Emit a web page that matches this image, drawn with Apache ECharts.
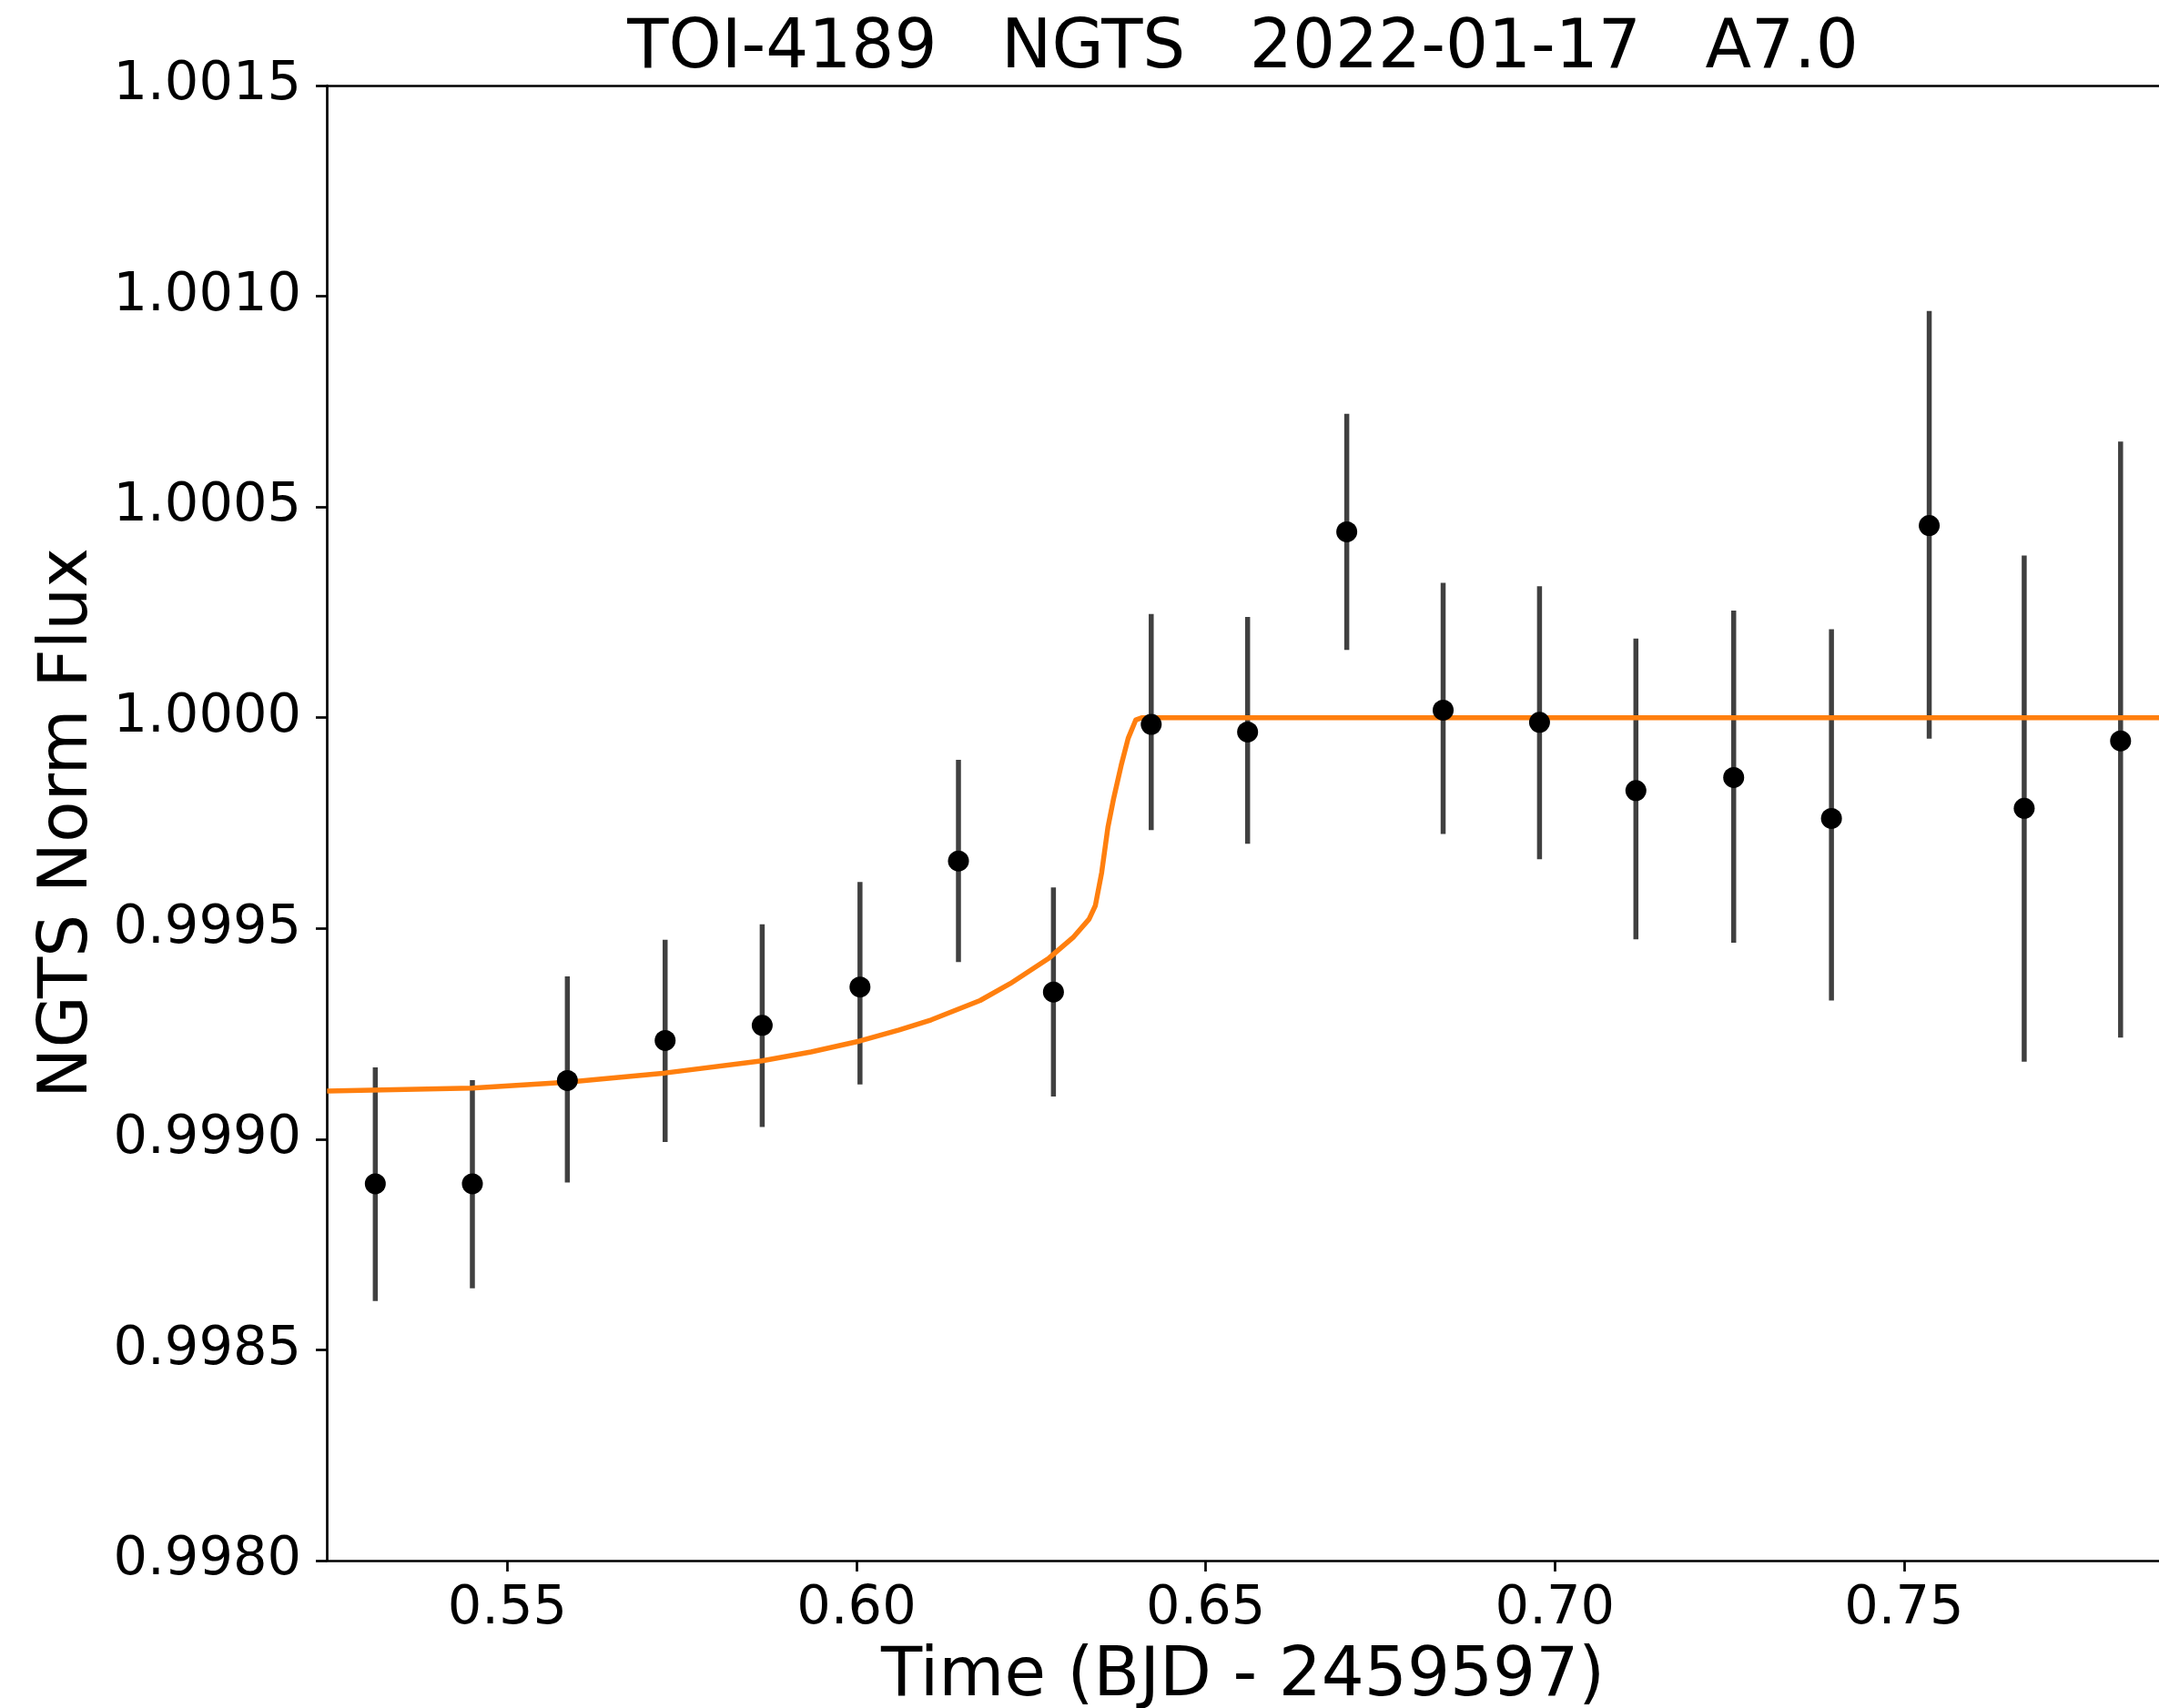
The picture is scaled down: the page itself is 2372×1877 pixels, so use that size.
<!DOCTYPE html>
<html>
<head>
<meta charset="utf-8">
<script src="https://cdn.jsdelivr.net/npm/echarts@6/dist/echarts.min.js"></script>
<style>
html, body { margin: 0; padding: 0; background: #fff; }
#chart { width: 2372px; height: 1877px; }
</style>
</head>
<body>
<div id="chart"></div>
<script>
// ---- data ----
const chartTitle = 'TOI-4189   NGTS   2022-01-17   A7.0';
const xLabel = 'Time (BJD - 2459597)';
const yLabel = 'NGTS Norm Flux';

const time = [0.5311, 0.5450, 0.5586, 0.5726, 0.5865, 0.6005, 0.6146, 0.6282, 0.6422, 0.6560,
              0.6702, 0.6840, 0.6978, 0.7116, 0.7256, 0.7396, 0.7536, 0.7672, 0.7810];
const flux = [0.998894, 0.998894, 0.999139, 0.999234, 0.999270, 0.999361, 0.999660, 0.999349, 0.999984, 0.999966,
              1.000441, 1.000018, 0.999989, 0.999827, 0.999858, 0.999761, 1.000456, 0.999785, 0.999945];
const errTop = [0.999170, 0.999140, 0.999386, 0.999473, 0.999510, 0.999610, 0.999900, 0.999597, 1.000246, 1.000239,
                1.000721, 1.000320, 1.000312, 1.000188, 1.000254, 1.000210, 1.000965, 1.000385, 1.000655];
const errBottom = [0.998616, 0.998646, 0.998897, 0.998993, 0.999029, 0.999130, 0.999420, 0.999101, 0.999733, 0.999701,
                   1.000161, 0.999724, 0.999664, 0.999474, 0.999466, 0.999329, 0.999950, 0.999184, 0.999241];

const modelTime = [0.5242, 0.5450, 0.5586, 0.5726, 0.5865, 0.5935, 0.6005, 0.6061, 0.6107, 0.6177,
                   0.6220, 0.6276, 0.6311, 0.6333, 0.6342, 0.6351, 0.6360, 0.6368, 0.6379, 0.6389,
                   0.6400, 0.6409, 0.7865];
const modelFlux = [0.999114, 0.999121, 0.999135, 0.999157, 0.999186, 0.999207, 0.999233, 0.999259, 0.999283, 0.999329,
                   0.999369, 0.999430, 0.999480, 0.999522, 0.999554, 0.999632, 0.999740, 0.999807, 0.999887, 0.999951,
                   0.999995, 1.000000, 1.000000];

const xTicks = [0.55, 0.60, 0.65, 0.70, 0.75];
const yTicks = [0.9980, 0.9985, 0.9990, 0.9995, 1.0000, 1.0005, 1.0010, 1.0015];
const xRange = [0.52415, 0.7865];
const yRange = [0.9980, 1.0015];

// ---- chart ----
const FONT = 'DejaVu Sans';
const chart = echarts.init(document.getElementById('chart'), null, { renderer: 'canvas' });

const points = time.map((t, i) => [t, flux[i]]);
const bars = time.map((t, i) => [t, errBottom[i], errTop[i]]);
const model = modelTime.map((t, i) => [t, modelFlux[i]]);

const axisLineStyle = { color: '#000', width: 2.7 };

chart.setOption({
  animation: false,
  backgroundColor: '#ffffff',
  grid: { left: 359, right: 0, top: 94, bottom: 162, containLabel: false, outerBoundsMode: 'none' },
  xAxis: [
    {
      type: 'value', min: xRange[0], max: xRange[1], position: 'bottom',
      name: xLabel, nameLocation: 'middle', nameGap: 92,
      nameTextStyle: { fontFamily: FONT, fontSize: 74, color: '#000' },
      axisLine: { show: true, onZero: false, lineStyle: axisLineStyle },
      axisTick: { show: true, inside: false, length: 12, lineStyle: { color: '#000', width: 2.7 }, customValues: xTicks },
      axisLabel: { show: true, fontFamily: FONT, fontSize: 59, color: '#000', margin: 24, customValues: xTicks,
                   formatter: v => v.toFixed(2) },
      splitLine: { show: false }
    },
    {
      type: 'value', min: xRange[0], max: xRange[1], position: 'top',
      name: chartTitle, nameLocation: 'middle', nameGap: 2,
      nameTextStyle: { fontFamily: FONT, fontSize: 74, color: '#000' },
      axisLine: { show: true, onZero: false, lineStyle: axisLineStyle },
      axisTick: { show: false }, axisLabel: { show: false }, splitLine: { show: false }
    }
  ],
  yAxis: {
    type: 'value', min: yRange[0], max: yRange[1],
    name: yLabel, nameLocation: 'middle', nameGap: 246, nameRotate: 90,
    nameTextStyle: { fontFamily: FONT, fontSize: 74, color: '#000' },
    axisLine: { show: true, onZero: false, lineStyle: axisLineStyle },
    axisTick: { show: true, inside: false, length: 12, lineStyle: { color: '#000', width: 2.7 }, customValues: yTicks },
    axisLabel: { show: true, fontFamily: FONT, fontSize: 59, color: '#000', margin: 28, customValues: yTicks,
                 formatter: v => v.toFixed(4) },
    splitLine: { show: false }
  },
  series: [
    {
      type: 'custom',
      xAxisIndex: 0, yAxisIndex: 0,
      data: bars,
      z: 2,
      renderItem: function (params, api) {
        const x = api.value(0);
        const p1 = api.coord([x, api.value(1)]);
        const p2 = api.coord([x, api.value(2)]);
        return {
          type: 'line',
          shape: { x1: p1[0], y1: p1[1], x2: p2[0], y2: p2[1] },
          style: { stroke: '#404040', lineWidth: 5.5, lineCap: 'butt' }
        };
      }
    },
    {
      type: 'line',
      xAxisIndex: 0, yAxisIndex: 0,
      data: model,
      showSymbol: false,
      smooth: false,
      lineStyle: { color: '#ff7f0e', width: 5.5, join: 'round' },
      z: 3
    },
    {
      type: 'scatter',
      xAxisIndex: 0, yAxisIndex: 0,
      data: points,
      symbol: 'circle',
      symbolSize: 23,
      itemStyle: { color: '#000', opacity: 1 },
      z: 4
    }
  ]
});
</script>
</body>
</html>
